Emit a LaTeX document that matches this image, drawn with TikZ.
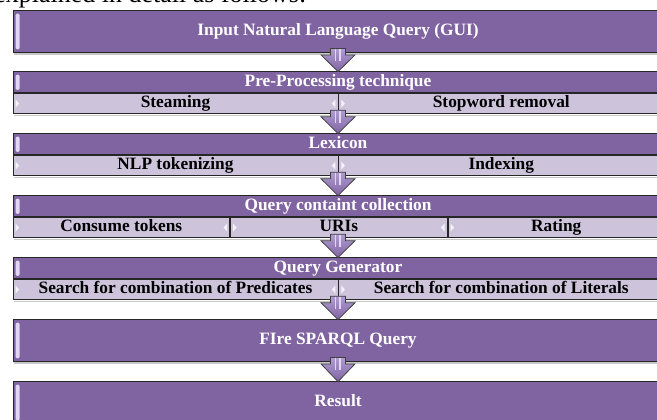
\documentclass[tikz,border=0pt]{standalone}
\usepackage{fontspec}
\setmainfont{Liberation Serif}
\usetikzlibrary{calc}

\definecolor{hdpurple}{RGB}{128,100,162}
\definecolor{subpurple}{RGB}{205,196,220}
\definecolor{glint}{RGB}{226,214,242}
\definecolor{arrowtop}{RGB}{176,156,210}

\begin{document}
\begin{tikzpicture}[x=0.75pt,y=0.75pt,yscale=-1,xscale=1,
  header/.style={draw=black!85,fill=hdpurple,line width=0.6pt,text=white,
    font=\bfseries\fontsize{13}{15}\selectfont,inner sep=0.75pt,
    text height=9pt,text depth=2.5pt,
    minimum width=487.5pt,minimum height=16.125pt},
  tallheader/.style={header,minimum height=31.5pt},
  subcell/.style={draw=black!85,fill=subpurple,line width=0.6pt,text=black,
    font=\bfseries\fontsize{13}{15}\selectfont,inner sep=0.75pt,
    text height=9pt,text depth=2.5pt,
    minimum height=15.375pt,anchor=north west},
  halfcell/.style={subcell,minimum width=243.75pt},
  thirdcell/.style={subcell,minimum width=162.5pt},
  flowarrow/.style={draw=black!75,line width=0.6pt,top color=arrowtop,bottom color=hdpurple},
  stripe/.style={draw=glint,line width=1.3pt}]
\useasboundingbox (0,0) rectangle (657,419);
\clip (0,0) rectangle (657,419);

% Text Node
\node[anchor=base west,inner sep=0pt,font=\fontsize{19.5}{22}\selectfont] (intro) at (-6,2.5) {explained in detail as follows:};

% Boxes
\node[tallheader] (inq) at (338,31) {Input Natural Language Query (GUI)};

\node[header] (pre) at (338,81.75) {Pre-Processing technique};
\node[halfcell] (stem) at (pre.south west) {Steaming};
\node[halfcell] (stop) at (stem.north east) {Stopword removal};

\node[header] (lex) at (338,143.75) {Lexicon};
\node[halfcell] (nlp) at (lex.south west) {NLP tokenizing};
\node[halfcell] (idx) at (nlp.north east) {Indexing};

\node[header] (qcc) at (338,205.75) {Query containt collection};
\node[thirdcell] (cons) at (qcc.south west) {Consume tokens};
\node[thirdcell] (uri) at (cons.north east) {URIs};
\node[thirdcell] (rate) at (uri.north east) {Rating};

\node[header] (qgen) at (338,267.75) {Query Generator};
\node[halfcell] (pred) at (qgen.south west) {Search for combination of Predicates};
\node[halfcell] (lit) at (pred.north east) {Search for combination of Literals};

\node[tallheader] (fire) at (338,340) {FIre SPARQL Query};
\node[tallheader] (res) at (338,402) {Result};

% shadows under the boxes
\foreach \b in {inq,stem,stop,nlp,idx,cons,uri,rate,pred,lit,fire}
  \fill[black!22] ($(\b.south west)+(1.5,0.6)$) rectangle ($(\b.south east)+(1.5,2.2)$);

% glints
\foreach \h in {inq,pre,lex,qcc,qgen,fire,res}
  \fill[glint,rounded corners=1pt] ($(\h.north west)+(3,4)$) rectangle ($(\h.south west)+(7,-3)$);
\foreach \c in {stem,stop,nlp,idx,cons,uri,rate,pred,lit} {
  \fill[white!80!subpurple] ($(\c.west)+(3,-4)$) -- ($(\c.west)+(6.5,0)$) -- ($(\c.west)+(3,4)$) -- cycle;
  \fill[white!80!subpurple] ($(\c.east)+(-3,-4)$) -- ($(\c.east)+(-6.5,0)$) -- ($(\c.east)+(-3,4)$) -- cycle;
}

% Block arrows
\foreach \up/\dn in {inq/pre,stem/lex,nlp/qcc,cons/qgen,pred/fire,fire/res} {
  \coordinate (s) at (\up.south -| \dn.north);
  \draw[flowarrow] ($(s)+(-7.5,-4)$) -- ($(s)+(7.5,-4)$) -- ($(s)+(7.5,2.5)$) -- ($(s)+(17,2.5)$)
    -- ($(\dn.north)+(0,1)$) -- ($(s)+(-17,2.5)$) -- ($(s)+(-7.5,2.5)$) -- cycle;
  \draw[stripe] ($(s)+(-2.5,-3.5)$) -- ($(s)+(-2.5,9)$);
  \draw[stripe] ($(s)+(2,-3.5)$) -- ($(s)+(2,9)$);
}

\end{tikzpicture}
\end{document}
